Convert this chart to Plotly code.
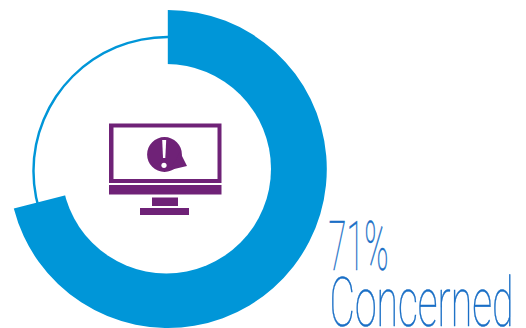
import plotly.graph_objects as go

W, H = 526, 328
labels = ["Concerned", "Not concerned"]
shares = [71, 29]
headline = "71%"
caption = "Concerned"

RING = "#0096d8"
ICON = "#6f2277"
TEXT = "#1a6fc6"


def domain(cx, cy, r):
    return dict(x=[(cx - r) / W, (cx + r) / W], y=[(H - cy - r) / H, (H - cy + r) / H])


fig = go.Figure()
# thin full circle behind the thick arc
fig.add_trace(go.Pie(values=[100], labels=["All"], hole=132.8 / 135.2, domain=domain(167.5, 171, 135.2),
                     marker=dict(colors=[RING], line=dict(width=0)), textinfo="none",
                     hoverinfo="skip", sort=False, showlegend=False))
fig.add_trace(go.Pie(values=shares, labels=labels, hole=0.6, domain=domain(167.8, 169, 159),
                     direction="clockwise", rotation=0, sort=False, showlegend=False,
                     marker=dict(colors=[RING, "rgba(255,255,255,0)"], line=dict(width=0)),
                     textinfo="none"))


# hole and monitor icon, in pixel units on hidden axes
def rect(x0, y0, x1, y1, color):
    return dict(type="rect", xref="x", yref="y", x0=x0, y0=y0, x1=x1, y1=y1,
                fillcolor=color, line=dict(width=0), layer="above")


def disc(cx, cy, r, color):
    return dict(type="circle", xref="x", yref="y", x0=cx - r, y0=cy - r, x1=cx + r, y1=cy + r,
                fillcolor=color, line=dict(width=0), layer="above")


def poly(path, color):
    return dict(type="path", xref="x", yref="y", path=path, fillcolor=color,
                line=dict(width=0), layer="above")


shapes = [
    disc(166.3, 168.8, 104.7, "white"),
    rect(109, 123.5, 221.5, 183, ICON),
    rect(113.5, 127.5, 217.5, 179, "white"),
    rect(109, 185, 221.5, 194.5, ICON),
    rect(152, 197.5, 178, 206, ICON),
    rect(140, 208, 189, 215, ICON),
    disc(164.5, 154.5, 17.4, ICON),
    poly("M 180 152 L 187 166 L 170 170 Z", ICON),
    poly("M 162.2 140 L 166.2 140 L 165.3 158 L 163 158 Z", "white"),
    disc(164, 165.3, 2.6, "white"),
]

fig.update_layout(
    width=W, height=H, margin=dict(l=0, r=0, t=0, b=0),
    paper_bgcolor="white", plot_bgcolor="rgba(0,0,0,0)", shapes=shapes,
    xaxis=dict(range=[0, W], visible=False, fixedrange=True),
    yaxis=dict(range=[H, 0], visible=False, fixedrange=True),
    annotations=[
        dict(x=358.5, y=271, xref="x", yref="y", text=headline, showarrow=False, xanchor="center", yanchor="bottom",
             font=dict(family="Roboto", size=68, color=TEXT, weight=100), yshift=-18),
        dict(x=421.5, y=327, xref="x", yref="y", text=caption, showarrow=False, xanchor="center", yanchor="bottom",
             font=dict(family="Roboto", size=68, color=TEXT, weight=100), yshift=-18),
    ],
)

# squeeze the two labels into a condensed setting once they are drawn,
# with a hairline stroke to firm up the thin stems
squeeze = """
function squeezeLabels() {
  document.querySelectorAll('.annotation-text-g text').forEach(function (t) {
    t.setAttribute('textLength', t.textContent.indexOf('%') >= 0 ? 60 : 184);
    t.setAttribute('lengthAdjust', 'spacingAndGlyphs');
    t.setAttribute('stroke', '#1a6fc6');
    t.setAttribute('stroke-width', '0.5');
  });
}
squeezeLabels();
setTimeout(squeezeLabels, 50);
setTimeout(squeezeLabels, 300);
"""
fig.write_html("out.html", post_script=squeeze, config={"displayModeBar": False})
